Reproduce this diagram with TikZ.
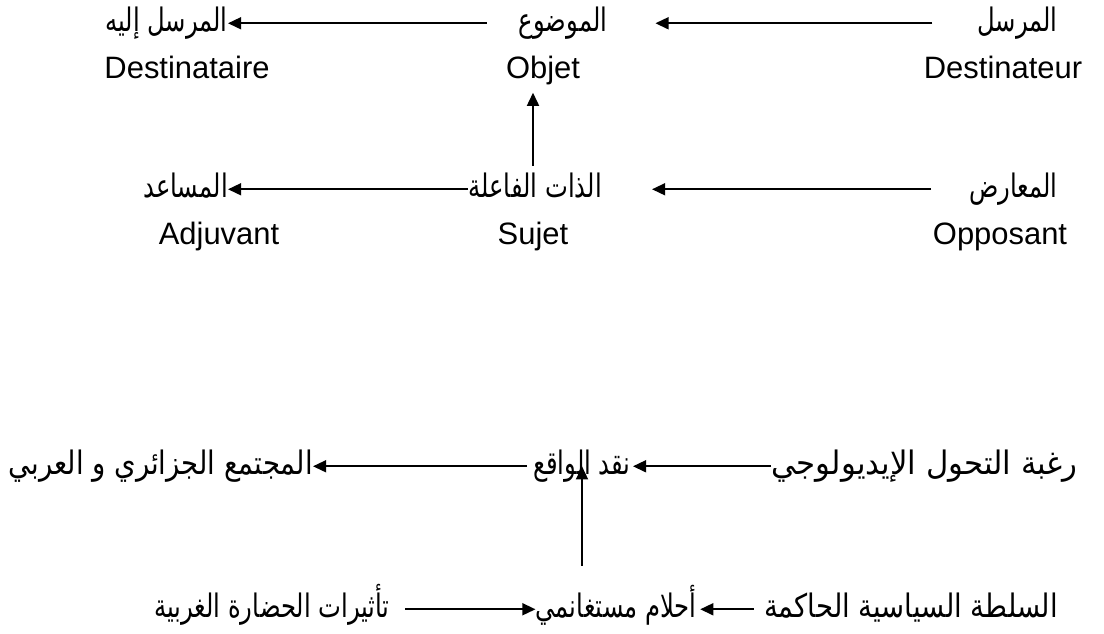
\documentclass[tikz,border=0pt]{standalone}
\usepackage{fontspec}
\setmainfont{Liberation Sans}
\newfontfamily\arabicfont[Script=Arabic, FakeStretch=0.75]{DejaVu Sans}
\newfontfamily\arabicwide[Script=Arabic, FakeStretch=0.85]{DejaVu Sans}
\newfontfamily\arabicwider[Script=Arabic, FakeStretch=0.95]{DejaVu Sans}
\TeXXeTstate=1
\usetikzlibrary{arrows.meta}

\begin{document}
\begin{tikzpicture}[x=0.025cm, y=-0.025cm,
    ar/.style={inner sep=0pt, text height=17pt, text depth=6pt,
        font=\arabicfont\fontsize{23}{27}\selectfont},
    arw/.style={ar, font=\arabicwide\fontsize{23}{27}\selectfont},
    lat/.style={inner sep=0pt, anchor=base, font=\fontsize{22}{26}\selectfont},
    arr/.style={line width=1.4pt, -{Triangle[length=0.33cm, width=0.3cm]}}]
    \useasboundingbox (0,0) rectangle (1104,633);
    % actantial model, upper axis
    \node[ar, anchor=base east] (mursil) at (1058,31) {\beginR المرسل\endR};
    \node[ar, anchor=base] (mawdu) at (563,31) {\beginR الموضوع\endR};
    \node[ar, anchor=base east] (ilayh) at (228,31) {\beginR المرسل إليه\endR};
    \node[lat] (destinateur) at (1003,78) {Destinateur};
    \node[lat] (objet) at (543,78) {Objet};
    \node[lat] (destinataire) at (187,78) {Destinataire};
    % lower axis
    \node[ar, anchor=base east] (muarid) at (1058,197) {\beginR المعارض\endR};
    \node[ar, anchor=base west] (dhat) at (468,197) {\beginR الذات الفاعلة\endR};
    \node[ar, anchor=base east] (musaid) at (228,197) {\beginR المساعد\endR};
    \node[lat] (opposant) at (1000,244) {Opposant};
    \node[lat] (sujet) at (533,244) {Sujet};
    \node[lat] (adjuvant) at (219,244) {Adjuvant};
    \draw[arr, shorten <=1.12cm, shorten >=1.2cm] (mursil) -- (mawdu);
    \draw[arr, shorten <=0.8cm] (mawdu) -- (ilayh);
    \draw[arr, shorten <=0.95cm, shorten >=1.25cm] (muarid) -- (dhat);
    \draw[arr] (dhat) -- (musaid);
    \draw[arr, shorten <=0.18cm, shorten >=0.2cm] (dhat.north -| sujet) -- (objet.south -| sujet);
    % applied to the novel
    \node[ar, anchor=base east, font=\arabicwider\fontsize{23}{27}\selectfont] (raghba) at (1078,474) {\beginR رغبة التحول الإيديولوجي\endR};
    \node[ar, anchor=base] (naqd) at (582,474) {\beginR نقد الواقع\endR};
    \node[arw, anchor=base east] (mujtama) at (313,474) {\beginR المجتمع الجزائري و العربي\endR};
    \node[arw, anchor=base east] (sulta) at (1058,617) {\beginR السلطة السياسية الحاكمة\endR};
    \node[ar, anchor=base east] (ahlam) at (697,617) {\beginR أحلام مستغانمي\endR};
    \node[ar, anchor=base east] (taathirat) at (390,617) {\beginR تأثيرات الحضارة الغربية\endR};
    \draw[arr, shorten >=0.05cm] (raghba) -- (naqd);
    \draw[arr, shorten <=0.15cm] (naqd) -- (mujtama);
    \draw[arr, shorten <=0.25cm, shorten >=0.08cm] (sulta) -- (ahlam);
    \draw[arr, shorten <=0.38cm] (taathirat) -- (ahlam);
    \draw[arr, shorten <=0.68cm] (ahlam.north -| naqd) -- (naqd.center);
\end{tikzpicture}
\end{document}
